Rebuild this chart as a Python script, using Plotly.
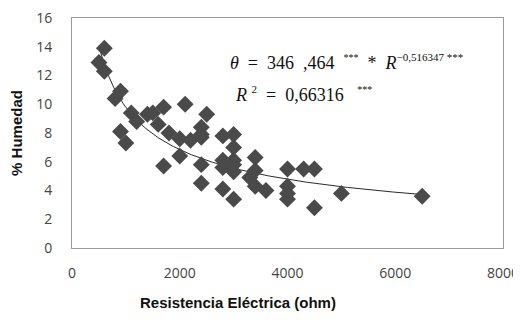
import numpy as np
import plotly.graph_objects as go

# Data
resistencia = [500, 600, 600, 800, 900, 900, 1000, 1100, 1200, 1400, 1500, 1600, 1700, 1700,
               1800, 2000, 2000, 2100, 2200, 2400, 2400, 2400, 2400, 2400, 2500, 2800, 2800,
               2800, 2800, 3000, 3000, 3000, 3000, 3000, 3000, 3300, 3400, 3400, 3400, 3600,
               4000, 4000, 4000, 4000, 4300, 4500, 4500, 5000, 6500]
humedad = [12.9, 13.9, 12.3, 10.4, 10.9, 8.1, 7.3, 9.4, 8.8, 9.3, 9.4, 8.6, 9.8, 5.7,
           8.0, 7.6, 6.4, 10.0, 7.5, 8.4, 7.7, 5.8, 4.5, 7.9, 9.3, 7.8, 6.1,
           5.6, 4.1, 7.9, 7.0, 6.1, 5.3, 5.8, 3.4, 4.9, 6.3, 5.4, 4.3, 4.0,
           5.5, 4.3, 3.8, 3.4, 5.5, 5.5, 2.8, 3.8, 3.6]

# Fitted power trend shown in the chart: theta = a * R^b
coef_a = 346.464
coef_b = -0.516347
r2_text = "0,66316"
x_ticks = [0, 2000, 4000, 6000, 8000]
y_ticks = [0, 2, 4, 6, 8, 10, 12, 14, 16]

trend_x = np.linspace(min(resistencia), max(resistencia), 200)
trend_y = coef_a * trend_x ** coef_b

fig = go.Figure()
fig.add_trace(go.Scatter(
    x=trend_x, y=trend_y, mode="lines",
    line=dict(color="#2a2a2a", width=1), showlegend=False, hoverinfo="skip"))
fig.add_trace(go.Scatter(
    x=resistencia, y=humedad, mode="markers",
    marker=dict(symbol="diamond", size=13, color="#4a4a4a",
                line=dict(width=0)),
    showlegend=False))

small = '<span style="font-size:10px">***</span>'
fig.add_annotation(
    xref="paper", yref="paper", x=0.363, y=0.81, xanchor="left", yanchor="middle",
    text=("<i>θ</i> &nbsp;= &nbsp;346 &nbsp;,464 &nbsp;<sup>" + small + "</sup>&nbsp; * &nbsp;<i>R</i>"
          "<sup><span style=\"font-size:11px\">−0,516347 ***</span></sup>"),
    showarrow=False, font=dict(family="Liberation Serif", size=18, color="#111111"))
fig.add_annotation(
    xref="paper", yref="paper", x=0.373, y=0.67, xanchor="left", yanchor="middle",
    text="<i>R</i> <sup><span style=\"font-size:11px\">2</span></sup> &nbsp;= &nbsp;" + r2_text
         + " &nbsp;&nbsp;<sup>" + small + "</sup>",
    showarrow=False, font=dict(family="Liberation Serif", size=18, color="#111111"))

# x-axis title (placed left of centre as in the reference)
fig.add_annotation(
    xref="paper", yref="paper", x=0.384, y=-0.235, xanchor="center", yanchor="middle",
    text="<b>Resistencia Eléctrica (ohm)</b>", showarrow=False,
    font=dict(family="Liberation Sans", size=15, color="#111111"))

# page body has an 8px default margin, so the figure is sized to compensate
fig.update_layout(
    width=513, height=308,
    margin=dict(l=64, r=18, t=10, b=68, autoexpand=False),
    paper_bgcolor="white", plot_bgcolor="white",
    font=dict(family="Open Sans", size=14, color="#444444"),
)
fig.update_xaxes(
    range=[0, 8000], tickvals=x_ticks, ticktext=[str(v) for v in x_ticks],
    showgrid=False, zeroline=False, showline=True, mirror=True, automargin=False,
    linecolor="#9a9a9a", linewidth=1, ticks="", ticklabelstandoff=12,
    ticklabeloverflow="allow")
fig.update_yaxes(
    range=[0, 16], tickvals=y_ticks, ticktext=[str(v) for v in y_ticks],
    showgrid=False, zeroline=False, showline=True, mirror=True, automargin=False,
    linecolor="#9a9a9a", linewidth=1, ticks="", ticklabelstandoff=16,
    ticklabeloverflow="allow",
    title=dict(text="<b>% Humedad</b>",
               font=dict(family="Liberation Sans", size=15, color="#111111"), standoff=12))

fig.write_html("out.html")
